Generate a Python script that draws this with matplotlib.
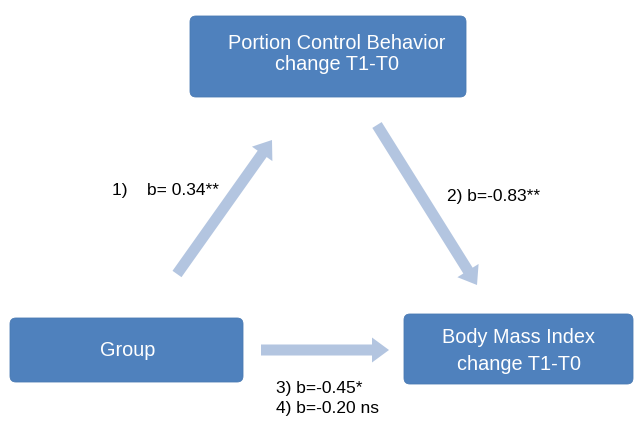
import matplotlib.pyplot as plt
from matplotlib.patches import FancyBboxPatch, FancyArrow

plt.rcParams['font.family'] = ['Liberation Sans', 'DejaVu Sans']

# diagram content
box_labels = ["Portion Control Behavior\nchange T1-T0", "Group", "Body Mass Index\nchange T1-T0"]
path_ids = ["1)", "2)", "3)", "4)"]
path_coefs = [0.34, -0.83, -0.45, -0.20]
path_sig = ["**", "**", "*", " ns"]

BOX_COLOR = "#4f81bd"
ARROW_COLOR = "#b3c5e0"

fig = plt.figure(figsize=(6.35, 4.21), dpi=100)
ax = fig.add_axes([0, 0, 1, 1])
ax.set_xlim(0, 635)
ax.set_ylim(421, 0)
ax.axis('off')

# boxes: (x, y, w, h) in pixel coords, text centre, line spacing
boxes = [
    ((190, 16, 276, 81), (337, 54), 1.15),
    ((10, 318, 233, 64), (128, 350), 1.0),
    ((404, 314, 229, 70), (519, 351), 1.5),
]
for ((x, y, w, h), (tx, ty), ls), label in zip(boxes, box_labels):
    p = FancyBboxPatch((x, y), w, h, boxstyle="round,pad=0,rounding_size=6",
                       facecolor=BOX_COLOR, edgecolor="#4a7ab3", linewidth=0.6)
    ax.add_patch(p)
    ax.text(tx, ty, label, color="white", fontsize=14.3, ha="center", va="center",
            linespacing=ls)

# arrows: tail -> tip
arrows = [
    ((177, 274), (272, 140)),
    ((377, 125), (477, 285)),
    ((261, 350), (389, 350)),
]
for (x0, y0), (x1, y1) in arrows:
    a = FancyArrow(x0, y0, x1 - x0, y1 - y0, width=11, head_width=25, head_length=17,
                   length_includes_head=True, facecolor=ARROW_COLOR, edgecolor="none")
    ax.add_patch(a)

# path coefficient labels
label_pos = [(112, 190), (447, 197), (276, 388), (276, 409)]
for i, (lx, ly) in enumerate(label_pos):
    sep = "    " if i == 0 else " "
    eq = "b= " if path_coefs[i] >= 0 else "b="
    txt = "{}{}{}{:.2f}{}".format(path_ids[i], sep, eq, path_coefs[i], path_sig[i])
    ax.text(lx, ly, txt, fontsize=12.5, ha="left", va="center")

fig.savefig("out.png", dpi=100)
